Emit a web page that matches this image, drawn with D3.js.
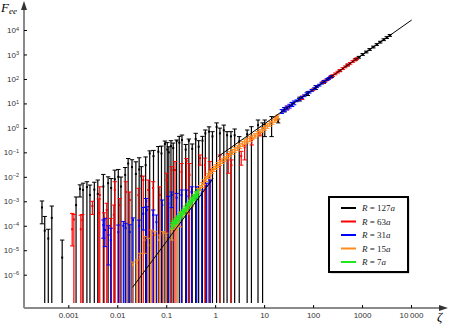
<!DOCTYPE html>
<html>
<head>
<meta charset="utf-8">
<script src="https://cdn.jsdelivr.net/npm/d3@7"></script>
<style>
    body { margin: 0; background: #fff; }
    svg { display: block; }
    .tick text { font-family: "Liberation Sans", Arial, sans-serif; font-size: 8px; fill: #333; }
</style>
</head>
<body>
<div id="chart"></div>
<script>

// axis ticks
const xTicks = [0.001, 0.01, 0.1, 1, 10, 100, 1000, 10000];
const xTickLabels = ["0.001", "0.01", "0.1", "1", "10", "100", "1000", "10\u2009000"];
const yTicks = [1e-6, 1e-5, 1e-4, 1e-3, 1e-2, 1e-1, 1, 10, 100, 1000, 10000];
const yExponents = ["\u22126", "\u22125", "\u22124", "\u22123", "\u22122", "\u22121", "0", "1", "2", "3", "4"];

// legend
const seriesNames = ["127", "63", "31", "15", "7"];
const seriesColors = ["#000000", "#ff0000", "#0000ff", "#ff8a1e", "#1ee81e"];

// each row: [zeta, F, lower, upper]  (lower 0 = error bar runs off the bottom)
const black = [
    [2.9e-4, 5.6e-4, 1.2e-4, 1.03e-3],
    [3.3e-4, 6.3e-5, 0, 2.4e-4],
    [3.9e-4, 3.0e-5, 0, 7.2e-5],
    [4.6e-4, 2.1e-4, 0, 6.4e-4],
    [7.5e-4, 5e-6, 0, 2.6e-5],
    [1.44e-3, 7e-4, 0, 1.5e-3],
    [1.73e-3, 3.2e-3, 1.5e-3, 4.7e-3],
    [2.0e-3, 2.9e-3, 0, 5.5e-3],
    [2.4e-3, 3.8e-3, 0, 6.3e-3],
    [2.77e-3, 1.8e-3, 0, 4.6e-3],
    [3.4e-3, 3e-3, 0, 6e-3],
    [4.0e-3, 2.0e-3, 0, 7.4e-3],
    [5.2e-3, 4e-3, 0, 0.0125],
    [6.5e-3, 5.5e-3, 0, 0.010],
    [7.5e-3, 3.5e-3, 0, 8.5e-3],
    [8.9e-3, 8.0e-3, 0, 0.0187],
    [0.0105, 0.01, 0, 0.02],
    [0.0119, 4e-3, 0, 9.8e-3],
    [0.0145, 0.012, 0, 0.024],
    [0.0167, 0.035, 0, 0.056],
    [0.020, 0.025, 0, 0.05],
    [0.024, 0.013, 0, 0.041],
    [0.028, 0.02, 0, 0.06],
    [0.031, 0.0107, 0, 0.026],
    [0.038, 0.03, 0, 0.065],
    [0.046, 0.090, 0, 0.115],
    [0.055, 0.07, 0, 0.12],
    [0.069, 0.106, 0, 0.173],
    [0.080, 0.09, 0, 0.18],
    [0.094, 0.22, 0, 0.29],
    [0.105, 0.13, 0, 0.25],
    [0.113, 0.10, 0, 0.17],
    [0.125, 0.18, 0, 0.3],
    [0.139, 0.15, 0, 0.24],
    [0.163, 0.29, 0, 0.32],
    [0.185, 0.25, 0, 0.45],
    [0.21, 0.32, 0, 0.51],
    [0.25, 0.13, 0, 0.21],
    [0.29, 0.3, 0, 0.35],
    [0.34, 0.14, 0, 0.22],
    [0.40, 0.35, 0, 0.6],
    [0.46, 0.17, 0, 0.30],
    [0.55, 0.3, 0, 0.45],
    [0.63, 0.60, 0, 0.82],
    [0.75, 0.7, 0, 1.1],
    [0.88, 0.45, 0, 0.70],
    [1.07, 1.1, 0, 1.6],
    [1.25, 0.6, 0, 0.98],
    [1.5, 0.8, 0, 1.3],
    [1.75, 0.5, 0, 0.7],
    [2.1, 0.45, 0, 0.70],
    [2.5, 0.5, 0, 0.9],
    [3.1, 0.28, 0, 0.44],
    [4.5, 0.55, 0, 0.82],
    [5.5, 0.44, 0, 1.12],
    [7.5, 1.3, 0, 2.1],
    [9.3, 1.0, 0, 1.6],
    [10.3, 1.3, 0.44, 2.1],
    [14.2, 1.6, 0.44, 2.9],
    [19.3, 1.9, 1.6, 2.3],
    [26, 5.5, 4.5, 6.8],
    [37, 9, 7.5, 11],
    [53, 15, 12.5, 18],
    [78, 25, 21, 30],
    [113, 44, 37, 53],
    [165, 75, 66, 85],
    [240, 125, 115, 136],
    [350, 215, 198, 234],
    [510, 370, 340, 402],
    [740, 630, 580, 685],
    [860, 770, 708, 837],
    [1030, 1000, 920, 1090],
    [1220, 1260, 1160, 1370],
    [1430, 1600, 1470, 1740],
    [1700, 2010, 1850, 2190],
    [2000, 2550, 2350, 2770],
    [2350, 3180, 2930, 3460],
    [2770, 4000, 3680, 4350],
    [3200, 4900, 4510, 5330],
    [3700, 6000, 5520, 6520]
];

const red = [
    [1.2e-3, 7.2e-5, 1.5e-5, 3.2e-4],
    [1.3e-3, 1.8e-4, 0, 2.9e-4],
    [1.8e-3, 7.2e-5, 0, 2.7e-4],
    [1.93e-3, 1.7e-4, 0, 2.9e-4],
    [3.1e-3, 6.4e-4, 2.9e-4, 1.0e-3],
    [4.2e-3, 3.4e-4, 0, 1.25e-3],
    [4.4e-3, 1.8e-3, 0, 3.9e-3],
    [5.4e-3, 2.1e-4, 0, 3.4e-4],
    [6.1e-3, 4.4e-4, 0, 8.3e-4],
    [7.3e-3, 1.0e-4, 0, 2.0e-4],
    [8.5e-3, 2.8e-4, 0, 7.0e-4],
    [8.9e-3, 2.9e-3, 0, 6.3e-3],
    [0.0113, 7e-4, 0, 1.3e-3],
    [0.015, 2.4e-3, 0, 6.3e-3],
    [0.018, 1.13e-3, 0, 2.4e-3],
    [0.027, 1.8e-3, 0, 3.4e-3],
    [0.034, 7.4e-3, 0, 0.0107],
    [0.043, 2.9e-3, 0, 7.4e-3],
    [0.054, 3.5e-3, 0, 6.3e-3],
    [0.074, 1.8e-3, 0, 3.9e-3],
    [0.102, 7.4e-3, 0, 0.014],
    [0.129, 0.019, 0, 0.026],
    [0.151, 0.019, 0, 0.042],
    [0.205, 0.016, 0, 0.035],
    [0.26, 0.045, 0, 0.056],
    [0.30, 0.012, 0, 0.035],
    [0.49, 0.058, 0.030, 0.078],
    [0.62, 0.030, 0, 0.058],
    [0.78, 0.019, 0, 0.042],
    [1.25, 0.049, 0, 0.078],
    [1.85, 0.067, 0.014, 0.090],
    [2.15, 0.030, 0, 0.049],
    [3.4, 0.07, 0.03, 0.11],
    [4.0, 0.16, 0.049, 0.2],
    [5.6, 0.32, 0.2, 0.385],
    [8.2, 0.56, 0.47, 0.66],
    [30, 6.5, 5.5, 7.8],
    [60, 17, 14.5, 20],
    [100, 36, 33, 39],
    [158, 71, 65.5, 77],
    [178, 83, 76.5, 90],
    [200, 97, 89.5, 105],
    [225, 116, 107, 126],
    [252, 137, 126, 149],
    [284, 161, 148, 175],
    [319, 190, 175, 206],
    [358, 223, 205, 242],
    [403, 265, 244, 288],
    [453, 311, 286, 338],
    [511, 372, 343, 404],
    [573, 434, 400, 472],
    [645, 516, 475, 561],
    [715, 592, 545, 643],
    [780, 671, 618, 729]
];

const blue = [
    [5.2e-3, 1.07e-4, 3.1e-5, 1.72e-4],
    [5.6e-3, 6.7e-5, 1.4e-5, 2.0e-4],
    [6.6e-3, 4.2e-5, 2.5e-6, 1.0e-4],
    [7.4e-3, 2.6e-5, 0, 8e-5],
    [0.0105, 5.5e-5, 0, 1.07e-4],
    [0.0133, 1.0e-4, 0, 1.5e-4],
    [0.0148, 8e-5, 0, 1.26e-4],
    [0.018, 5.5e-5, 0, 1.1e-4],
    [0.021, 1.7e-4, 0, 2.1e-4],
    [0.028, 1.0e-4, 0, 1.7e-4],
    [0.034, 3.1e-4, 6.7e-5, 5.6e-4],
    [0.039, 1.0e-3, 0, 1.3e-3],
    [0.040, 4.4e-4, 0, 6e-4],
    [0.054, 2.75e-4, 0, 4.4e-4],
    [0.063, 1.4e-4, 0, 2.75e-4],
    [0.083, 7e-4, 0, 1.13e-3],
    [0.11, 8e-4, 0, 1.6e-3],
    [0.129, 1.8e-3, 5.5e-4, 2.4e-3],
    [0.163, 1.4e-3, 0, 2.1e-3],
    [0.205, 1.8e-3, 0, 2.9e-3],
    [0.26, 1.6e-3, 0, 2.9e-3],
    [0.33, 2.4e-3, 0, 3.9e-3],
    [0.42, 2.9e-3, 0, 3.9e-3],
    [0.53, 2.1e-3, 0, 2.9e-3],
    [0.67, 4.3e-3, 0, 5.5e-3],
    [0.79, 6.2e-3, 0, 7.4e-3],
    [23, 4.7, 3.9, 5.6],
    [26, 5.5, 4.6, 6.6],
    [29, 6.5, 5.4, 7.8],
    [33, 7.7, 6.4, 9.2],
    [37, 9.0, 7.5, 10.8],
    [41, 10.5, 8.8, 12.6],
    [46, 12.7, 11.7, 13.8],
    [52, 14.6, 13.4, 15.9],
    [59, 17.6, 16.2, 19.1],
    [66, 20.5, 18.9, 22.3],
    [74, 25, 23, 27.2],
    [84, 28.8, 26.5, 31.3],
    [94, 34, 31.3, 37],
    [106, 40, 36.8, 43.5],
    [119, 48, 44.2, 52.2],
    [134, 55.7, 51.3, 60.5],
    [150, 67, 61.7, 72.8],
    [170, 78, 71.8, 84.8],
    [190, 93, 85.6, 101],
    [210, 105, 96.7, 114],
    [230, 121, 111, 132]
];

const orange = [
    [0.021, 2.5e-6, 0, 3.3e-6],
    [0.025, 3e-6, 0, 4e-6],
    [0.029, 5.3e-6, 0, 7.5e-6],
    [0.036, 2.6e-5, 7.5e-6, 3.6e-5],
    [0.043, 1.6e-5, 0, 3.1e-5],
    [0.050, 4.2e-5, 0, 6.7e-5],
    [0.059, 4.2e-5, 0, 5.7e-5],
    [0.072, 2.6e-5, 0, 4.2e-5],
    [0.087, 5e-5, 0, 5.7e-5],
    [0.10, 3.8e-5, 0, 5e-5],
    [0.129, 5.7e-5, 2.6e-5, 8e-5],
    [0.163, 6.7e-5, 0, 1.1e-4],
    [0.131, 8.9e-5, 7e-5, 1.1e-4],
    [0.145, 1.15e-4, 9e-5, 1.45e-4],
    [0.158, 1.43e-4, 1.1e-4, 1.8e-4],
    [0.174, 1.8e-4, 1.4e-4, 2.3e-4],
    [0.19, 2.3e-4, 9e-5, 3.5e-4],
    [0.21, 2.9e-4, 2.3e-4, 3.7e-4],
    [0.23, 3.6e-4, 2.8e-4, 4.6e-4],
    [0.253, 4.8e-4, 3.8e-4, 6.1e-4],
    [0.277, 6.4e-4, 3e-4, 8e-4],
    [0.305, 8.5e-4, 6.7e-4, 1.08e-3],
    [0.335, 1.13e-3, 6e-4, 1.4e-3],
    [0.366, 1.5e-3, 1.2e-3, 1.9e-3],
    [0.40, 2.0e-3, 1.5e-3, 2.5e-3],
    [0.443, 2.65e-3, 2.1e-3, 3.35e-3],
    [0.49, 3.5e-3, 2.7e-3, 4.4e-3],
    [0.54, 4.6e-3, 3.6e-3, 5.8e-3],
    [0.59, 6.1e-3, 4.8e-3, 7.6e-3],
    [0.65, 8.1e-3, 6.4e-3, 0.0102],
    [0.71, 0.0108, 8.5e-3, 0.0135],
    [0.78, 0.0137, 0.0108, 0.0172],
    [0.86, 0.0173, 0.0135, 0.022],
    [0.94, 0.021, 0.0166, 0.0265],
    [1.03, 0.025, 0.020, 0.031],
    [1.13, 0.030, 0.024, 0.038],
    [1.25, 0.037, 0.029, 0.046],
    [1.40, 0.044, 0.035, 0.055],
    [1.58, 0.053, 0.042, 0.066],
    [1.78, 0.068, 0.054, 0.085],
    [2.0, 0.086, 0.068, 0.107],
    [2.25, 0.104, 0.083, 0.13],
    [2.5, 0.125, 0.10, 0.155],
    [2.85, 0.150, 0.12, 0.187],
    [3.2, 0.18, 0.143, 0.225],
    [3.6, 0.22, 0.175, 0.275],
    [4.0, 0.265, 0.21, 0.33],
    [4.5, 0.30, 0.24, 0.375],
    [5.1, 0.35, 0.28, 0.44],
    [5.75, 0.41, 0.33, 0.51],
    [6.5, 0.47, 0.38, 0.58],
    [7.3, 0.57, 0.46, 0.71],
    [8.2, 0.68, 0.55, 0.85],
    [9.2, 0.82, 0.66, 1.02],
    [10.3, 0.99, 0.8, 1.23],
    [11.6, 1.19, 0.96, 1.48],
    [13, 1.44, 1.16, 1.8],
    [14.7, 1.74, 1.4, 2.17],
    [16.5, 2.1, 1.7, 2.6],
    [17.7, 2.4, 1.95, 2.95],
    [19, 2.8, 2.3, 3.4]
];

const green = [
    [0.131, 1.0e-4, 7.5e-5, 1.35e-4],
    [0.141, 1.2e-4, 9e-5, 1.6e-4],
    [0.151, 1.43e-4, 1.07e-4, 1.9e-4],
    [0.162, 1.65e-4, 1.24e-4, 2.2e-4],
    [0.173, 1.9e-4, 1.43e-4, 2.55e-4],
    [0.186, 2.3e-4, 1.73e-4, 3.07e-4],
    [0.20, 2.75e-4, 2.05e-4, 3.7e-4],
    [0.215, 3.3e-4, 2.5e-4, 4.4e-4],
    [0.23, 4.0e-4, 3.0e-4, 5.3e-4],
    [0.247, 4.8e-4, 3.6e-4, 6.4e-4],
    [0.264, 5.8e-4, 4.3e-4, 7.7e-4],
    [0.284, 7.0e-4, 5.2e-4, 9.3e-4],
    [0.305, 8.5e-4, 6.4e-4, 1.13e-3],
    [0.327, 1.03e-3, 7.7e-4, 1.37e-3],
    [0.351, 1.24e-3, 9.3e-4, 1.65e-3],
    [0.377, 1.42e-3, 1.07e-3, 1.9e-3],
    [0.404, 1.64e-3, 1.23e-3, 2.2e-3],
    [0.424, 1.9e-3, 1.43e-3, 2.5e-3],
    [0.444, 2.2e-3, 1.65e-3, 2.9e-3]
];

// two fitted power-law pieces
const fitLowZeta = [0.0206, 0.91];
const fitLowF = [3.05e-7, 8.7e-3];
const fitHighZeta = [1.13, 10330];
const fitHighF = [0.066, 25700];

const allSeries = [black, red, blue, orange, green];

// ---------------- drawing ----------------
let width = 451, height = 328;
let axisX = 24, axisY = 308, barBottom = 303;

let svg = d3.select("#chart").append("svg")
    .attr("width", width)
    .attr("height", height);

let x = d3.scaleLog().domain([1e-3, 1e4]).range([68.3, 411]);
let y = d3.scaleLog().domain([1e-6, 1e4]).range([274.7, 30]);

let yPos = v => v > 0 ? Math.min(y(v), barBottom) : barBottom;

// error bars
allSeries.forEach((rows, si) => {
    let col = seriesColors[si];
    let g = svg.append("g").attr("class", "series-" + si);

    g.selectAll("line.bar")
        .data(rows)
        .join("line")
        .attr("class", "bar")
        .attr("x1", d => x(d[0])).attr("x2", d => x(d[0]))
        .attr("y1", d => yPos(d[3])).attr("y2", d => yPos(d[2]))
        .attr("stroke", col).attr("stroke-width", 1.2);

    g.selectAll("line.cap-top")
        .data(rows)
        .join("line")
        .attr("class", "cap-top")
        .attr("x1", d => x(d[0]) - 2.2).attr("x2", d => x(d[0]) + 2.2)
        .attr("y1", d => yPos(d[3])).attr("y2", d => yPos(d[3]))
        .attr("stroke", col).attr("stroke-width", 1);

    g.selectAll("line.cap-bot")
        .data(rows.filter(d => d[2] > 0))
        .join("line")
        .attr("class", "cap-bot")
        .attr("x1", d => x(d[0]) - 2.2).attr("x2", d => x(d[0]) + 2.2)
        .attr("y1", d => yPos(d[2])).attr("y2", d => yPos(d[2]))
        .attr("stroke", col).attr("stroke-width", 1);

    g.selectAll("rect.pt")
        .data(rows)
        .join("rect")
        .attr("class", "pt")
        .attr("x", d => x(d[0]) - 1).attr("y", d => yPos(d[1]) - 1)
        .attr("width", 2).attr("height", 2)
        .attr("fill", col);
});

// fit lines
let fitLine = d3.line().x(d => x(d[0])).y(d => y(d[1]));
[[fitLowZeta, fitLowF], [fitHighZeta, fitHighF]].forEach(([zs, fs]) => {
    svg.append("path")
        .datum(zs.map((z, i) => [z, fs[i]]))
        .attr("d", fitLine)
        .attr("fill", "none")
        .attr("stroke", "#000")
        .attr("stroke-width", 1);
});

// axes lines with arrows
svg.append("path")
    .attr("d", `M${axisX},${axisY} L${axisX},8 M${axisX},${axisY} L441,${axisY}`)
    .attr("stroke", "#8a8a8a").attr("stroke-width", 2).attr("fill", "none");
svg.append("path")
    .attr("d", `M${axisX},1 L${axisX - 3},10 L${axisX + 3},10 Z`)
    .attr("fill", "#333");
svg.append("path")
    .attr("d", `M448,${axisY} L439,${axisY - 3} L439,${axisY + 3} Z`)
    .attr("fill", "#333");

// x axis
let xAxis = d3.axisBottom(x)
    .tickValues(xTicks)
    .tickFormat((d, i) => xTickLabels[i])
    .tickSizeInner(-3)
    .tickSizeOuter(0)
    .tickPadding(4);

svg.append("g")
    .attr("class", "x-axis")
    .attr("transform", `translate(0,${axisY})`)
    .call(xAxis)
    .call(g => g.select(".domain").remove())
    .call(g => g.selectAll(".tick line").attr("stroke", "#000"));

// y axis
let yAxis = d3.axisLeft(y)
    .tickValues(yTicks)
    .tickFormat(() => "")
    .tickSizeInner(-3)
    .tickSizeOuter(0)
    .tickPadding(5);

svg.append("g")
    .attr("class", "y-axis")
    .attr("transform", `translate(${axisX},0)`)
    .call(yAxis)
    .call(g => g.select(".domain").remove())
    .call(g => g.selectAll(".tick line").attr("stroke", "#000"))
    .call(g => g.selectAll(".tick text").each(function(d, i) {
        let t = d3.select(this);
        t.append("tspan").text("10");
        t.append("tspan").attr("dy", "-0.45em").attr("font-size", "5.5px").text(yExponents[i]);
    }));

// axis titles
let title = svg.append("text")
    .attr("x", 1).attr("y", 12)
    .attr("font-family", "'Liberation Serif', 'DejaVu Serif', serif")
    .attr("font-style", "italic");
title.append("tspan").attr("font-size", "13px").text("F");
title.append("tspan").attr("font-size", "9px").attr("dy", "2").text("ee");

svg.append("text")
    .attr("x", 437).attr("y", 321)
    .attr("font-family", "'Liberation Serif', 'DejaVu Serif', serif")
    .attr("font-style", "italic")
    .attr("font-size", "13px")
    .text("\u03b6");

// legend
let legend = svg.append("g").attr("transform", "translate(329,197)");
legend.append("rect")
    .attr("x", 1.5).attr("y", 1.5).attr("width", 79).attr("height", 75)
    .attr("fill", "#bbb");
legend.append("rect")
    .attr("width", 79).attr("height", 75)
    .attr("fill", "#fff").attr("stroke", "#000").attr("stroke-width", 2);

seriesNames.forEach((n, i) => {
    let ly = 11 + i * 13.5;
    legend.append("line")
        .attr("x1", 12).attr("x2", 27)
        .attr("y1", ly).attr("y2", ly)
        .attr("stroke", seriesColors[i]).attr("stroke-width", 2);
    let t = legend.append("text")
        .attr("x", 33).attr("y", ly + 3)
        .attr("font-family", "'Liberation Serif', 'DejaVu Serif', serif")
        .attr("font-size", "9px")
        .attr("fill", "#222");
    t.append("tspan").attr("font-style", "italic").text("R");
    t.append("tspan").text(" = " + n);
    t.append("tspan").attr("font-style", "italic").text("a");
});

</script>
</body>
</html>
